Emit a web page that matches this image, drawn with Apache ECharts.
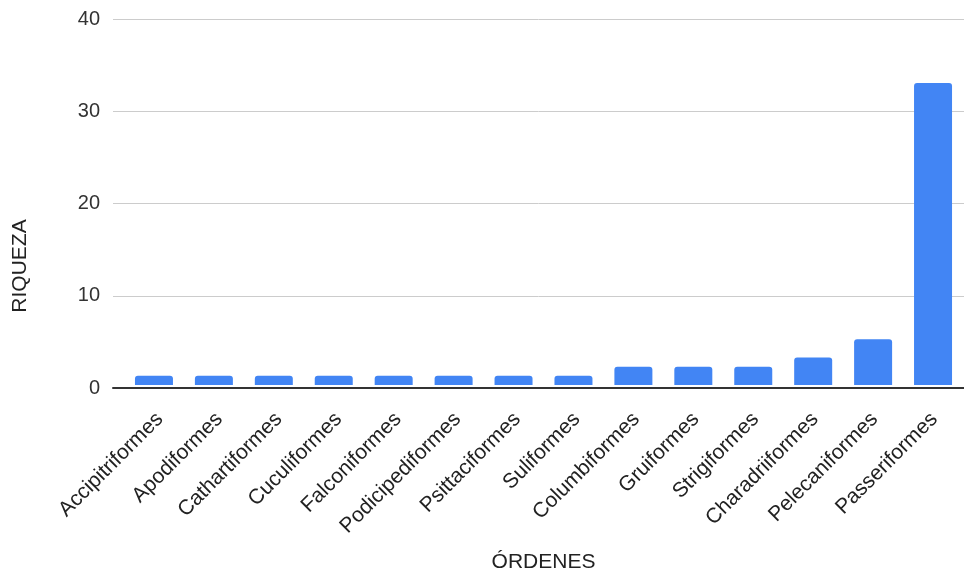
<!DOCTYPE html>
<html>
<head>
<meta charset="utf-8">
<script src="https://cdn.jsdelivr.net/npm/echarts@6/dist/echarts.min.js"></script>
<style>html,body{margin:0;padding:0;background:#fff;}#c{width:964px;height:578px;}</style>
</head>
<body>
<div id="c"></div>
<script>
const categories = ['Accipitriformes','Apodiformes','Cathartiformes','Cuculiformes','Falconiformes','Podicipediformes','Psittaciformes','Suliformes','Columbiformes','Gruiformes','Strigiformes','Charadriiformes','Pelecaniformes','Passeriformes'];
const riqueza = [1,1,1,1,1,1,1,1,2,2,2,3,5,33];
const yTicks = {min: 0, max: 40, interval: 10};
const xTitle = 'ÓRDENES';
const yTitle = 'RIQUEZA';

const font = '"Liberation Sans", Arial, sans-serif';
const chart = echarts.init(document.getElementById('c'), null, {renderer: 'canvas'});
chart.setOption({
  animation: false,
  backgroundColor: '#ffffff',
  textStyle: {fontFamily: font},
  grid: [
    {left: 113, right: 0, top: 19, bottom: 190},
    {left: 124, width: 839, top: 19, bottom: 190},
    {left: 130, width: 839, top: 19, bottom: 190}
  ],
  xAxis: [
    {gridIndex: 0, type: 'category', data: [''],
     axisLine: {show: true, lineStyle: {color: '#333333', width: 2}},
     axisTick: {show: false}, axisLabel: {show: false}, splitLine: {show: false}, z: 5},
    {gridIndex: 1, type: 'category', data: categories,
     axisLine: {show: false}, axisTick: {show: false}, axisLabel: {show: false},
     name: xTitle, nameLocation: 'middle', nameGap: 167,
     nameTextStyle: {fontSize: 21, color: '#222222', fontFamily: font}},
    {gridIndex: 2, type: 'category', data: categories,
     axisLine: {show: false}, axisTick: {show: false},
     axisLabel: {interval: 0, rotate: 45, fontSize: 21, color: '#222222', margin: 28, fontFamily: font}}
  ],
  yAxis: [
    {gridIndex: 0, type: 'value', min: yTicks.min, max: yTicks.max, interval: yTicks.interval,
     axisLine: {show: false}, axisTick: {show: false},
     axisLabel: {fontSize: 20, color: '#333333', margin: 13, fontFamily: font},
     splitLine: {show: true, lineStyle: {color: '#cccccc', width: 1}}},
    {gridIndex: 1, type: 'value', min: yTicks.min, max: yTicks.max, interval: yTicks.interval,
     show: false, splitLine: {show: false}},
    {gridIndex: 2, type: 'value', min: yTicks.min, max: yTicks.max, interval: yTicks.interval,
     show: false, splitLine: {show: false}}
  ],
  graphic: [{
    type: 'text', x: 20, y: 266, rotation: Math.PI / 2,
    style: {text: yTitle, fontSize: 21, fill: '#222222', fontFamily: font, align: 'center', verticalAlign: 'middle'}
  }],
  series: [{
    type: 'bar', xAxisIndex: 1, yAxisIndex: 1, data: riqueza, barWidth: 38,
    itemStyle: {color: '#4285F4', borderRadius: [3, 3, 0, 0]}
  }]
});
</script>
</body>
</html>
